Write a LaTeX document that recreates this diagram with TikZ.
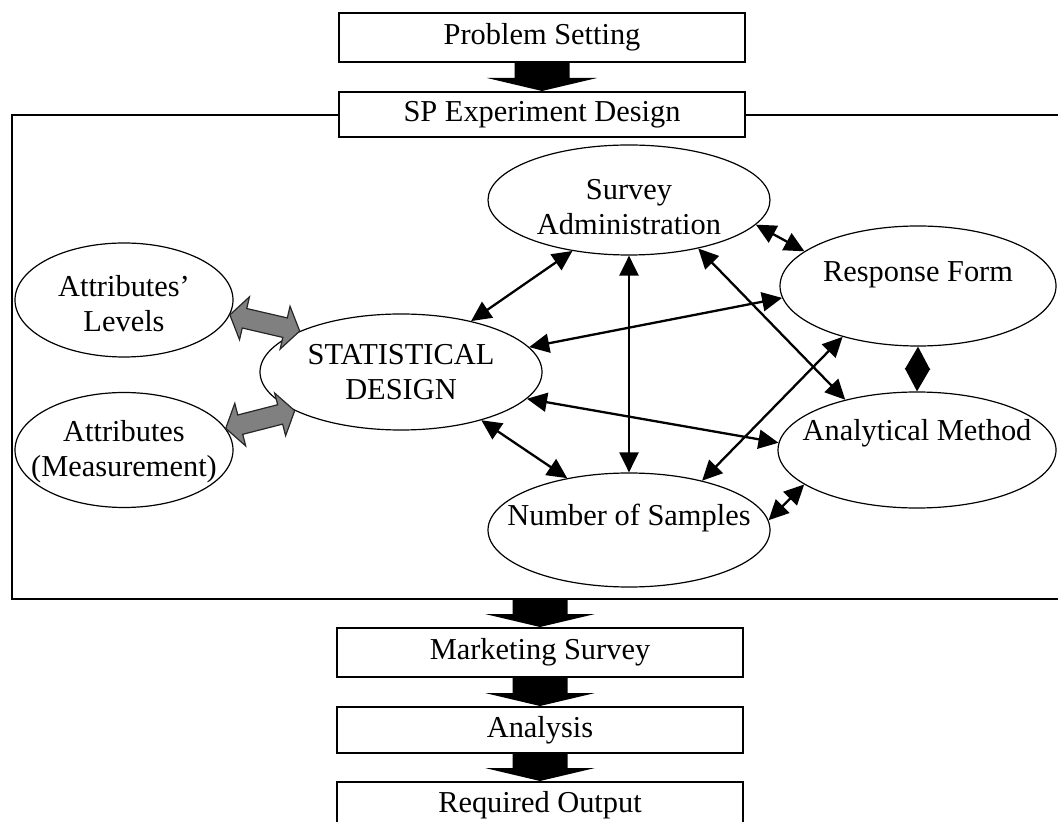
\documentclass[tikz,border=0pt]{standalone}
\usepackage{fontspec}
\setmainfont{Liberation Serif}
\usetikzlibrary{shapes.geometric, arrows.meta, calc}

% schwarzer Blockpfeil zwischen zwei Stufen
\newcommand{\blockpfeil}[2]{%
  \fill let \p1=#1, \p2=#2 in
    (\x1-13.75pt,\y1) -- (\x1+13.75pt,\y1) -- (\x1+13.75pt,\y2+6.5pt)
    -- (\x1+27.5pt,\y2+6.5pt) -- (\x1,\y2) -- (\x1-27.5pt,\y2+6.5pt)
    -- (\x1-13.75pt,\y2+6.5pt) -- cycle;}

% grauer Doppelpfeil
\newcommand{\graupfeil}[2]{%
  \coordinate (ga) at #1; \coordinate (gb) at #2;
  \coordinate (ga1) at ($(ga)!7.5pt!(gb)$);
  \coordinate (gb1) at ($(gb)!7.5pt!(ga)$);
  \filldraw[fill=black!50, draw=black!85, line width=0.6pt]
    (ga) -- ($(ga1)!11pt!90:(gb)$) -- ($(ga1)!5pt!90:(gb)$)
    -- ($(gb1)!5pt!-90:(ga)$) -- ($(gb1)!11pt!-90:(ga)$) -- (gb)
    -- ($(gb1)!11pt!90:(ga)$) -- ($(gb1)!5pt!90:(ga)$)
    -- ($(ga1)!5pt!-90:(gb)$) -- ($(ga1)!11pt!-90:(gb)$) -- cycle;}

\begin{document}
\begin{tikzpicture}[x=0.5pt, y=-0.5pt,
    font=\fontsize{15.2}{17.5}\selectfont,
    stufe/.style={draw, line width=1pt, fill=white, minimum width=203pt, inner sep=0pt},
    oval/.style={ellipse, draw, line width=0.6pt, inner sep=0pt},
    txt/.style={align=center, inner sep=0pt},
    pfeil/.style={line width=1.15pt, {Triangle[length=10pt,width=9.5pt]}-{Triangle[length=10pt,width=9.5pt]}},
    raute/.style={line width=1pt, {Triangle[length=11.5pt,width=12.5pt]}-{Triangle[length=11.5pt,width=12.5pt]}}]
  \useasboundingbox (0,0) rectangle (1058,822);
  \clip (0,0) rectangle (1058,822);

  % Rahmen
  \draw[line width=1pt] (12,115) rectangle (1070,599);
  \coordinate (fbot) at (540,599);

  % Stufen
  \node[stufe, minimum height=24.5pt] (ps) at (542,37.5) {Problem Setting};
  \node[stufe, minimum height=22.5pt] (sp) at (542,114.5) {SP Experiment Design};
  \node[stufe, minimum height=24.5pt] (mkt) at (540,652.5) {Marketing Survey};
  \node[stufe, minimum height=23pt] (anl) at (540,730) {Analysis};
  \node[stufe, minimum height=23pt] (out) at (540,805) {Required Output};

  \blockpfeil{(ps.south)}{(sp.north)}
  \blockpfeil{(fbot)}{(mkt.north)}
  \blockpfeil{(mkt.south)}{(anl.north)}
  \blockpfeil{(anl.south)}{(out.north)}

  % Ellipsen
  \node[oval, minimum width=141pt, minimum height=58pt] (stat) at (401,372) {};
  \node[oval, minimum width=141pt, minimum height=55pt] (adm) at (629,200) {};
  \node[oval, minimum width=138pt, minimum height=60pt] (resp) at (918,286) {};
  \node[oval, minimum width=139pt, minimum height=58pt] (meth) at (917,450) {};
  \node[oval, minimum width=141pt, minimum height=57pt] (sam) at (629,530) {};
  \node[oval, minimum width=109pt, minimum height=57pt] (lev) at (124,300) {};
  \node[oval, minimum width=109pt, minimum height=57.5pt] (mea) at (124,450) {};

  \node[txt] (stat-t) at (stat) {STATISTICAL\\DESIGN};
  \node[txt] (adm-t) at ($(adm)+(0,7)$) {Survey\\Administration};
  \node[txt] (resp-t) at ($(resp)+(0,-11)$) {Response Form};
  \node[txt] (meth-t) at ($(meth)+(0,-17)$) {Analytical Method};
  \node[txt] (sam-t) at ($(sam)+(0,-12)$) {Number of Samples};
  \node[txt] (lev-t) at ($(lev)+(0,4)$) {Attributes'\\Levels};
  \node[txt] (mea-t) at ($(mea)+(0,2)$) {Attributes\\(Measurement)};

  % graue Pfeile
  \graupfeil{(lev.352)}{(stat.158)}
  \graupfeil{(mea.12)}{(stat.200)}

  % Beziehungen
  \draw[pfeil] (stat.36) -- (adm.222);
  \draw[pfeil] (adm.south) -- (sam.north);
  \draw[pfeil] (stat.11) -- (resp.185);
  \draw[pfeil] (adm.325) -- (meth.145);
  \draw[pfeil] (stat.348) -- (meth.177);
  \draw[pfeil] (stat.329) -- (sam.140);
  \draw[pfeil] (sam.34) -- (resp.214);
  \draw[pfeil] (sam.4) -- (meth.197);
  \draw[pfeil] (adm.349) -- (resp.163);
  \draw[raute] (resp.south) -- (meth.north);

\end{tikzpicture}
\end{document}
